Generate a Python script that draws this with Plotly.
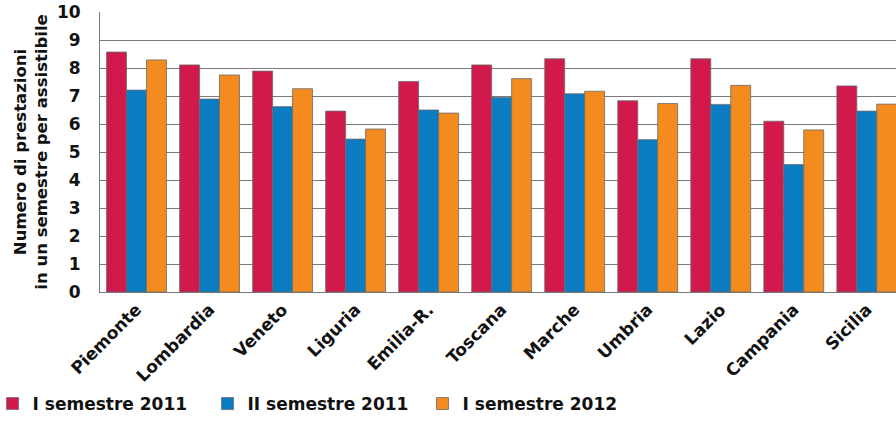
import plotly.graph_objects as go

regions = ["Piemonte", "Lombardia", "Veneto", "Liguria", "Emilia-R.", "Toscana",
           "Marche", "Umbria", "Lazio", "Campania", "Sicilia"]
sem1_2011 = [8.57, 8.11, 7.89, 6.46, 7.52, 8.11, 8.33, 6.83, 8.33, 6.10, 7.36]
sem2_2011 = [7.21, 6.89, 6.62, 5.46, 6.50, 6.95, 7.08, 5.44, 6.70, 4.55, 6.46]
sem1_2012 = [8.29, 7.75, 7.26, 5.82, 6.39, 7.62, 7.17, 6.73, 7.38, 5.79, 6.71]
series_names = ["I semestre 2011", "II semestre 2011", "I semestre 2012"]
colors = ["#D11A4B", "#0A7CC1", "#F38B1F"]
y_ticks = list(range(0, 11))
y_title = "Numero di prestazioni<br>in un semestre per assistibile"

FONT = "DejaVu Sans"
fig = go.Figure()
for name, vals, col in zip(series_names, [sem1_2011, sem2_2011, sem1_2012], colors):
    fig.add_trace(go.Bar(x=regions, y=vals, name=name, marker_color=col,
                         marker_line=dict(color="#6b6b6b", width=0.8)))

fig.update_layout(
    width=896, height=421,
    margin=dict(l=100, r=0, t=12, b=129, autoexpand=False),
    paper_bgcolor="white", plot_bgcolor="white",
    barmode="group", bargap=0.18, bargroupgap=0,
    font=dict(family=FONT, color="#111", size=15, weight="bold"),
    showlegend=True,
    legend=dict(orientation="h", x=-0.135, xanchor="left", y=-0.40, yanchor="middle",
                font=dict(size=17, family=FONT, weight="bold"),
                entrywidth=170, entrywidthmode="pixels",
                tracegroupgap=0, traceorder="normal"),
    annotations=[dict(text=y_title, textangle=-90, xref="paper", yref="paper",
                      x=-0.087, y=0.5, xanchor="center", yanchor="middle",
                      showarrow=False, align="center",
                      font=dict(size=16.5, family=FONT, weight="bold", color="#111"))],
)
fig.update_xaxes(
    range=[-0.5, 10.4], tickangle=-45, showgrid=False, automargin=False,
    showline=True, linecolor="#777", linewidth=1,
    tickfont=dict(size=17, family=FONT, weight="bold"), ticks="",
)
fig.update_yaxes(
    range=[0, 10], tickvals=y_ticks, showgrid=True, gridcolor="#7a7a7a", gridwidth=1,
    showline=True, linecolor="#777", linewidth=1, mirror=True, zeroline=False,
    automargin=False, ticklabeloverflow="allow",
    tickfont=dict(size=17, family=FONT, weight="bold"), ticks="",
    ticklabelstandoff=15,
)
fig.write_html("out.html", config={"displayModeBar": False},
               post_script="document.body.style.margin='0';")
